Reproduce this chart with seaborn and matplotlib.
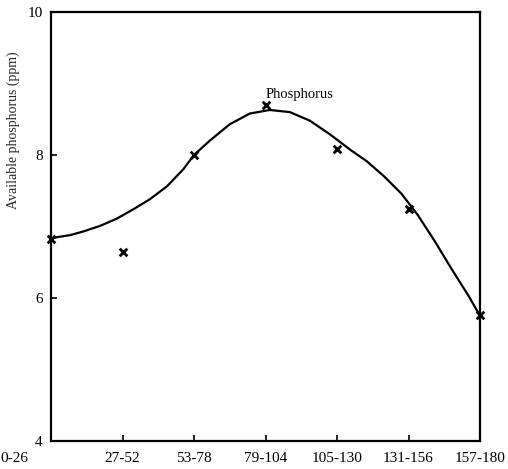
import matplotlib
matplotlib.use("Agg")
import matplotlib.pyplot as plt
import matplotlib.transforms as mtransforms
import seaborn as sns
import pandas as pd

categories = ["0-26", "27-52", "53-78", "79-104", "105-130", "131-156", "157-180"]
phosphorus = [6.83, 6.64, 8.0, 8.70, 8.08, 7.25, 5.76]

curve_pos = [0, 0.08, 0.27, 0.45, 0.69, 0.92, 1.15, 1.38, 1.62, 1.85, 2.0, 2.22,
             2.50, 2.78, 3.06, 3.34, 3.62, 3.90, 4.19, 4.42, 4.66, 4.90, 5.13,
             5.37, 5.60, 5.84, 6.0]
curve_val = [6.83, 6.85, 6.88, 6.93, 7.01, 7.11, 7.24, 7.38, 7.56, 7.80, 8.0, 8.20,
             8.43, 8.58, 8.63, 8.60, 8.48, 8.29, 8.07, 7.91, 7.70, 7.46, 7.16,
             6.79, 6.41, 6.03, 5.75]

yticks = [4, 6, 8, 10]

sns.set_theme(style="ticks")
plt.rcParams["font.family"] = ["Liberation Serif", "DejaVu Serif"]

fig = plt.figure(figsize=(5.08, 4.69), dpi=100)
ax = fig.add_axes([0.1004, 0.0597, 0.8445, 0.9147])

pts = pd.DataFrame({"pos": range(len(categories)), "val": phosphorus})
crv = pd.DataFrame({"pos": curve_pos, "val": curve_val})

sns.lineplot(data=crv, x="pos", y="val", color="black", linewidth=1.6, ax=ax,
             sort=True)
sns.scatterplot(data=pts, x="pos", y="val", marker="x", color="black", s=30,
                linewidth=2, ax=ax, zorder=5, clip_on=False)

ax.text(3.48, 8.84, "Phosphorus", ha="center", va="center", fontsize=10.5, color="black")

ax.set_xlim(0, 6)
ax.set_ylim(4, 10)
ax.set_xticks(range(len(categories)))
ax.set_xticklabels(categories, fontsize=11)
ax.set_yticks(yticks)
ax.set_yticklabels([str(t) for t in yticks], fontsize=11)
ax.tick_params(direction="in", length=4, width=1.2, colors="black")
ax.tick_params(axis="x", pad=8)
ax.tick_params(axis="y", pad=6)
# first category label sits further left in the reference
first = ax.get_xticklabels()[0]
first.set_transform(first.get_transform() +
                    mtransforms.ScaledTranslation(-0.37, 0, fig.dpi_scale_trans))
ax.set_xlabel("")
ax.set_ylabel("Available phosphorus (ppm)", fontsize=10)
ax.yaxis.set_label_coords(-0.072, 0.725)
for sp in ax.spines.values():
    sp.set_visible(True)
    sp.set_linewidth(1.6)
    sp.set_color("black")

fig.savefig("out.png", dpi=100, facecolor="white")
